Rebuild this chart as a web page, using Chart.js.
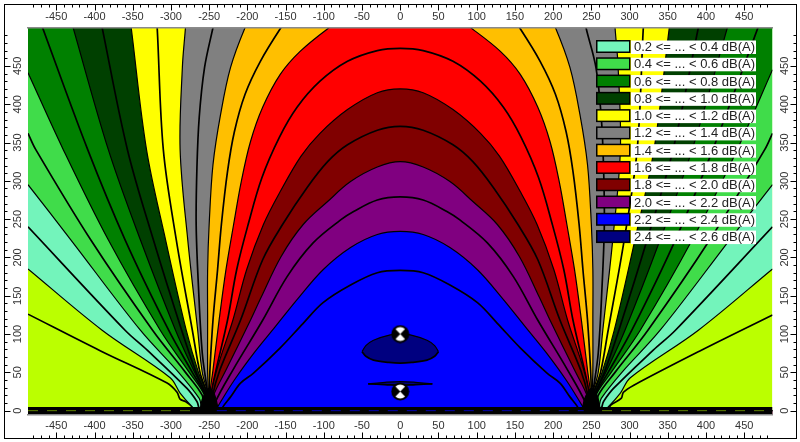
<!DOCTYPE html>
<html>
<head>
<meta charset="utf-8">
<title>Noise contour map</title>
<script src="https://cdn.jsdelivr.net/npm/chart.js@4/dist/chart.umd.js"></script>
<style>
html, body { margin: 0; padding: 0; background: #fff; }
canvas { display: block; }
</style>
</head>
<body>
<canvas id="myChart" width="800" height="442"></canvas>
<script>
// contour lines, level in dB(A) * 10, [x, y]
// lines that leave through the top run on past y = 500, the plot clips them
const c01 = [[-487,126],[-392,78],[-305,36],[-292,24],[-288,15],[-281,12],[-272,5],[-269,0],[272,0],[275,7],[289,16],[292,24],[305,33],[392,78],[487,125]];
const c02 = [[-487,185],[-390,105],[-301,43],[-288,23],[-272,5],[-265,0],[265,0],[272,5],[288,23],[301,43],[390,105],[487,185]];
const c03 = [[-487,240],[-360,105],[-331,79],[-279,29],[-266,12],[-260,0],[260,0],[266,12],[279,29],[331,79],[360,105],[487,240]];
const c04 = [[-487,295],[-431,223],[-340,105],[-290,50],[-263,16],[-256,0],[256,0],[263,16],[290,50],[340,105],[431,223],[487,295]];
const c05 = [[-487,362],[-477,341],[-405,223],[-324,105],[-281,50],[-259,20],[-255,0],[255,0],[259,20],[281,50],[324,105],[405,223],[477,341],[487,362]];
const c06 = [[-487,441],[-441,341],[-382,223],[-314,105],[-276,50],[-256,20],[-254,0],[254,0],[256,20],[276,50],[314,105],[382,223],[441,341],[487,445]];
const c07 = [[-487,552],[-468,500],[-409,341],[-360,223],[-303,105],[-272,50],[-255,20],[-252,0],[252,0],[255,20],[272,50],[303,105],[360,223],[409,341],[468,500],[487,552]];
const c08 = [[-487,560],[-445,560],[-428,500],[-382,341],[-340,223],[-294,105],[-269,50],[-254,20],[-252,0],[252,0],[254,20],[269,50],[294,105],[340,223],[382,341],[428,500],[445,560],[487,560]];
const c09 = [[-402,560],[-390,500],[-357,341],[-323,223],[-286,105],[-267,50],[-254,20],[-251,0],[251,0],[254,20],[267,50],[286,105],[323,223],[357,341],[390,500],[402,560]];
const c10 = [[-487,560],[-360,560],[-352,500],[-332,341],[-307,223],[-280,105],[-264,50],[-252,20],[-250,0],[250,0],[252,20],[264,50],[280,105],[307,223],[332,341],[352,500],[360,560],[487,560]];
const c11 = [[-322,560],[-318,500],[-310,341],[-293,223],[-272,105],[-262,50],[-252,20],[-250,0],[250,0],[252,20],[262,50],[272,105],[293,223],[310,341],[318,500],[322,560]];
const c12 = [[-487,560],[-277,560],[-281,500],[-285,449],[-288,341],[-278,223],[-265,105],[-259,50],[-251,20],[-249,0],[249,0],[251,20],[259,50],[265,105],[278,223],[288,341],[285,449],[281,500],[277,560],[487,560]];
const c13 = [[-232,560],[-245,500],[-256,448],[-263,383],[-266,317],[-267,243],[-264,162],[-259,75],[-252,23],[-250,0],[250,0],[252,23],[259,75],[264,162],[267,243],[266,317],[263,383],[256,448],[243,500],[230,560]];
const c14 = [[-487,0],[-250,0],[-251,23],[-252,53],[-252,118],[-252,184],[-250,243],[-245,321],[-235,387],[-222,448],[-203,500],[-175,560],[175,560],[203,500],[222,448],[235,387],[245,321],[250,243],[252,184],[252,118],[252,53],[251,23],[250,0],[487,0]];
const c15 = [[-125,545],[-156,500],[-183,456],[-203,413],[-217,364],[-226,312],[-234,243],[-239,184],[-245,118],[-249,53],[-250,23],[-250,0],[250,0],[250,23],[249,53],[245,118],[239,184],[234,243],[226,312],[217,364],[203,413],[183,456],[156,500],[125,545]];
const c16 = [[-487,0],[-250,0],[-249,23],[-245,53],[-237,118],[-228,184],[-218,243],[-208,299],[-196,351],[-180,396],[-157,439],[-131,469],[-93,500],[-50,530],[50,530],[92,500],[131,469],[157,439],[180,396],[196,351],[208,299],[218,243],[228,184],[237,118],[245,53],[249,23],[250,0],[487,0]];
const c17 = [[-249,0],[-247,23],[-241,53],[-226,118],[-214,184],[-199,243],[-181,304],[-158,357],[-135,396],[-105,430],[-69,456],[-30,470],[0,473],[30,470],[69,456],[105,430],[135,396],[158,357],[181,304],[199,243],[214,184],[226,118],[241,53],[247,23],[249,0]];
const c18 = [[-487,0],[-248,0],[-247,23],[-239,57],[-219,118],[-201,184],[-179,243],[-157,286],[-130,332],[-105,362],[-69,393],[-30,415],[0,420],[30,415],[69,393],[105,362],[130,332],[157,286],[179,243],[201,184],[219,118],[239,57],[247,23],[248,0],[487,0]];
const c19 = [[-247,0],[-246,18],[-236,53],[-209,118],[-180,197],[-154,243],[-122,291],[-95,325],[-69,347],[-30,366],[0,371],[30,366],[69,347],[95,325],[122,291],[154,243],[180,197],[209,118],[236,53],[246,18],[247,0]];
const c20 = [[-487,0],[-246,0],[-245,18],[-228,53],[-196,118],[-182,148],[-156,201],[-127,243],[-95,273],[-65,299],[-30,318],[0,325],[30,318],[65,299],[95,273],[127,243],[156,201],[182,148],[196,118],[228,53],[245,18],[246,0],[487,0]];
const c21 = [[-243,0],[-242,11],[-219,53],[-180,118],[-148,175],[-114,219],[-78,249],[-61,260],[-30,275],[0,279],[30,275],[61,260],[78,249],[114,219],[148,175],[180,118],[219,53],[242,11],[243,0]];
const c22 = [[-487,0],[-242,0],[-239,5],[-217,40],[-190,77],[-164,109],[-135,145],[-101,184],[-65,213],[-30,230],[0,234],[30,230],[65,213],[101,184],[135,145],[164,109],[190,77],[217,40],[239,5],[242,0],[487,0]];
const c23 = [[-233,0],[-232,5],[-222,18],[-209,36],[-192,49],[-157,82],[-127,114],[-101,141],[-65,164],[-30,180],[0,183],[30,180],[65,164],[101,141],[127,114],[157,82],[192,49],[209,36],[222,18],[232,5],[233,0]];

// closed 2.4 dB(A) islands, upper and lower edge
const upperBlob = [[-50,77],[-45,85],[-35,92],[-13,99],[0,100],[13,99],[35,92],[45,85],[50,77]];
const lowerBlob = [[-50,77],[-45,71],[-35,66],[-15,63],[0,62],[15,63],[35,66],[45,71],[50,77]];
const upperLens = [[-42,35],[-20,37],[0,38],[20,37],[42,35]];
const lowerLens = [[-42,35],[-20,34],[0,33],[20,34],[42,35]];

// where the lines pile up round the two sources
const hubLeft = [[-262,0],[-259,15],[-254,25],[-250,29],[-245,25],[-241,15],[-238,0]];
const hubRight = [[238,0],[241,15],[246,25],[250,29],[255,25],[259,15],[262,0]];
const groundLine = [[-487,0],[487,0]];
const groundOuterLeft = [[-487,0],[-264,0]];
const groundMiddle = [[-240,0],[240,0]];
const groundOuterRight = [[264,0],[487,0]];

const turbineX = [0, 0];
const turbineY = [100, 25];

const baseColor = "#BBFF00";
const bandColors = ["#73F4BB", "#40DC4A", "#008000", "#004000", "#FFFF00", "#808080", "#FFBF00", "#FF0000", "#800000", "#800080", "#0000FF", "#000080"];
const legendLabels = ["0.2 <= ... < 0.4 dB(A)", "0.4 <= ... < 0.6 dB(A)", "0.6 <= ... < 0.8 dB(A)", "0.8 <= ... < 1.0 dB(A)", "1.0 <= ... < 1.2 dB(A)", "1.2 <= ... < 1.4 dB(A)", "1.4 <= ... < 1.6 dB(A)", "1.6 <= ... < 1.8 dB(A)", "1.8 <= ... < 2.0 dB(A)", "2.0 <= ... < 2.2 dB(A)", "2.2 <= ... < 2.4 dB(A)", "2.4 <= ... < 2.6 dB(A)"];

const xRange = [-487, 487];
const yRange = [-5, 499.5];

// black disc with the white hourglass, used as point style
const makeTurbineIcon = function () {
    const icon = document.createElement("canvas");
    icon.width = 19;
    icon.height = 19;
    const g = icon.getContext("2d");
    g.fillStyle = "#000";
    g.beginPath();
    g.arc(9.5, 9.5, 9, 0, Math.PI * 2);
    g.fill();
    g.fillStyle = "#fff";
    [-Math.PI / 2, Math.PI / 2].forEach(function (a) {
        g.beginPath();
        g.moveTo(9.5, 9.5);
        g.arc(9.5, 9.5, 7, a - 0.75, a + 0.75);
        g.closePath();
        g.fill();
    });
    return icon;
};

const contourSet = function (data, fill, color) {
    return {
        data: data,
        showLine: true,
        pointRadius: 0,
        borderColor: "#000",
        borderWidth: fill ? 1.2 : 1.7,
        backgroundColor: color,
        fill: fill,
        tension: 0.35,
        capBezierPoints: false,
        clip: 0
    };
};

const plainLine = function (data, color, width, dash) {
    return {
        data: data,
        showLine: true,
        pointRadius: 0,
        borderColor: color,
        borderWidth: width,
        borderDash: dash || [],
        fill: false,
        clip: 0
    };
};

const datasets = [
    contourSet([[-487,500],[487,500]], "start", baseColor),
    contourSet(c01, false),
    contourSet(c02, "end", bandColors[0]),
    contourSet(c03, false),
    contourSet(c04, "end", bandColors[1]),
    contourSet(c05, false),
    contourSet(c06, "end", bandColors[2]),
    contourSet(c07, false),
    contourSet(c08, "end", bandColors[3]),
    contourSet(c09, false),
    contourSet(c10, "end", bandColors[4]),
    contourSet(c11, false),
    contourSet(c12, "end", bandColors[5]),
    contourSet(c13, false),
    contourSet(c14, "start", bandColors[6]),
    contourSet(c15, false),
    contourSet(c16, "start", bandColors[7]),
    contourSet(c17, false),
    contourSet(c18, "start", bandColors[8]),
    contourSet(c19, false),
    contourSet(c20, "start", bandColors[9]),
    contourSet(c21, false),
    contourSet(c22, "start", bandColors[10]),
    contourSet(c23, false)
];
// islands fill down to the dataset right after them
datasets.push(contourSet(upperBlob, "+1", bandColors[11]));
datasets.push(contourSet(lowerBlob, false));
datasets.push(contourSet(upperLens, "+1", bandColors[11]));
datasets.push(contourSet(lowerLens, false));
datasets.push(contourSet(hubLeft, "start", "#000"));
datasets.push(contourSet(hubRight, "start", "#000"));
datasets.push(plainLine(groundLine, "#000", 7.5));
datasets.push(plainLine(groundOuterLeft, "#5F8000", 1, [10, 9]));
datasets.push(plainLine(groundMiddle, "#0000B0", 1, [10, 9]));
datasets.push(plainLine(groundOuterRight, "#5F8000", 1, [10, 9]));
datasets.push({
    data: turbineX.map(function (v, i) { return { x: v, y: turbineY[i] }; }),
    showLine: false,
    pointRadius: 9,
    pointStyle: makeTurbineIcon(),
    clip: 0
});
// first dataset has to be painted first
datasets.forEach(function (d, i) { d.order = datasets.length - i; });

const every50 = function (value) {
    return value % 50 === 0 ? String(value) : "";
};

const axisFont = { family: "'Liberation Sans', Arial, sans-serif", size: 11 };

const xAxis = function (position, size, pad) {
    return {
        type: "linear",
        axis: "x",
        position: position,
        min: xRange[0],
        max: xRange[1],
        grid: { display: false, drawTicks: false },
        border: { display: true, color: "#8a8a8a", width: 1.5, z: 1 },
        ticks: {
            stepSize: 10,
            includeBounds: false,
            autoSkip: false,
            maxRotation: 0,
            minRotation: 0,
            padding: pad,
            color: "#333",
            font: axisFont,
            callback: every50
        },
        afterFit: function (scale) { scale.height = size; }
    };
};

const yAxis = function (position, size, pad) {
    return {
        type: "linear",
        axis: "y",
        position: position,
        min: yRange[0],
        max: yRange[1],
        grid: { display: false, drawTicks: false },
        border: { display: false },
        ticks: {
            stepSize: 10,
            includeBounds: false,
            autoSkip: false,
            minRotation: 90,
            maxRotation: 90,
            crossAlign: "center",
            padding: pad,
            color: "#333",
            font: axisFont,
            callback: every50
        },
        afterFit: function (scale) { scale.width = size; }
    };
};

// ticks hang off the outer frame, not off the plot
const framePlugin = {
    id: "frameTicks",
    afterDraw: function (chart) {
        const ctx = chart.ctx;
        const left = 4.5, top = 4.5, right = 796.5, bottom = 438.5;
        ctx.save();
        ctx.strokeStyle = "#000";
        ctx.lineWidth = 1;
        ctx.strokeRect(left, top, right - left, bottom - top);
        ctx.beginPath();
        chart.scales.x.ticks.forEach(function (t) {
            const px = Math.round(chart.scales.x.getPixelForValue(t.value)) + 0.5;
            const len = t.value % 50 === 0 ? 6 : 3;
            ctx.moveTo(px, top);
            ctx.lineTo(px, top + len);
            ctx.moveTo(px, bottom);
            ctx.lineTo(px, bottom - len);
        });
        chart.scales.y.ticks.forEach(function (t) {
            const py = Math.round(chart.scales.y.getPixelForValue(t.value)) + 0.5;
            const len = t.value % 50 === 0 ? 6 : 3;
            ctx.moveTo(left, py);
            ctx.lineTo(left + len, py);
            ctx.moveTo(right, py);
            ctx.lineTo(right - len, py);
        });
        ctx.stroke();
        ctx.restore();
    }
};

const legendPlugin = {
    id: "bandLegend",
    afterDatasetsDraw: function (chart) {
        const ctx = chart.ctx;
        ctx.save();
        ctx.font = "13px 'Liberation Sans', Arial, sans-serif";
        ctx.textBaseline = "middle";
        legendLabels.forEach(function (label, i) {
            const rowY = 46.5 + i * 17.28;
            ctx.fillStyle = "#fff";
            ctx.fillRect(631, rowY - 6, 125, 13.5);
            ctx.fillStyle = "#000";
            ctx.fillRect(596, rowY - 6.5, 34.5, 13);
            ctx.fillStyle = bandColors[i];
            ctx.fillRect(597.5, rowY - 5, 31.5, 10);
            ctx.fillStyle = "#222";
            ctx.fillText(label, 634, rowY + 1);
        });
        ctx.restore();
    }
};

var myChart = new Chart(document.getElementById("myChart").getContext("2d"), {
    type: "scatter",
    data: { datasets: datasets },
    plugins: [framePlugin, legendPlugin],
    options: {
        responsive: false,
        animation: false,
        events: [],
        layout: { padding: 0 },
        elements: { line: { capBezierPoints: false } },
        plugins: {
            legend: { display: false },
            tooltip: { enabled: false }
        },
        scales: {
            x: xAxis("bottom", 27.5, 5),
            x2: xAxis("top", 28, 4),
            y: yAxis("left", 28, 1),
            y2: yAxis("right", 27.5, 3)
        }
    }
});
</script>
</body>
</html>
